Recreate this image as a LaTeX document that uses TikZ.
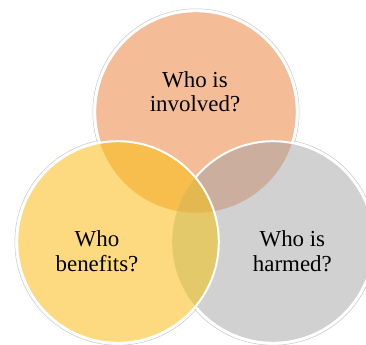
\documentclass[tikz,border=0pt]{standalone}
\usepackage{fontspec}
\setmainfont{Liberation Serif}

\definecolor{involvedfill}{RGB}{244,189,152}
\definecolor{benefitsfill}{RGB}{253,218,128}
\definecolor{harmedfill}{RGB}{209,209,209}
\definecolor{invbenfill}{RGB}{248,190,77}
\definecolor{invharfill}{RGB}{204,174,158}
\definecolor{benharfill}{RGB}{228,201,106}
\definecolor{allfill}{RGB}{228,184,80}

\tikzset{
    ring/.style={white, line width=1.4pt},
    shadowring/.style={gray!45, line width=0.35pt},
    label/.style={align=center, font=\fontsize{16.3}{17.4}\selectfont}
}

\begin{document}
\begin{tikzpicture}

    % Common settings
    \def\rad{2.52}
    \def\outer{2.58}
    \useasboundingbox (0,0) rectangle (9.15,8.6);

    % Circle centres
    \coordinate (involved) at (4.9,5.8);
    \coordinate (harmed) at (6.825,2.55);
    \coordinate (benefits) at (2.95,2.55);

    % Faint outer edges
    \foreach \c in {involved,harmed,benefits}
        \draw[shadowring] (\c) circle (\outer);

    %%%% Top circle
    \fill[involvedfill] (involved) circle (\rad);
    \draw[ring] (involved) circle (\rad);

    %%%% Right circle
    \fill[harmedfill] (harmed) circle (\rad);
    \begin{scope}
        \clip (harmed) circle (\rad);
        \fill[invharfill] (involved) circle (\rad);
    \end{scope}
    \draw[ring] (harmed) circle (\rad);

    %%%% Left circle
    \fill[benefitsfill] (benefits) circle (\rad);
    \begin{scope}
        \clip (benefits) circle (\rad);
        \fill[invbenfill] (involved) circle (\rad);
        \fill[benharfill] (harmed) circle (\rad);
        \clip (involved) circle (\rad);
        \fill[allfill] (harmed) circle (\rad);
    \end{scope}
    \draw[ring] (benefits) circle (\rad);

    % Labels
    \node[label] (involvedText) at (4.875,6.31) {Who is\\involved?};
    \node[label] (benefitsText) at (2.425,2.32) {Who\\benefits?};
    \node[label] (harmedText) at (7.31,2.32) {Who is\\harmed?};

\end{tikzpicture}
\end{document}
